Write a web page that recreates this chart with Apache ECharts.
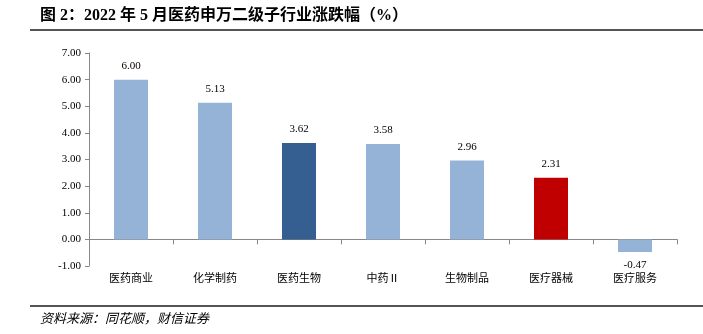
<!DOCTYPE html>
<html><head><meta charset="utf-8">
<script src="https://cdn.jsdelivr.net/npm/echarts@6/dist/echarts.min.js"></script>
<style>html,body{margin:0;padding:0;background:#fff}#c{width:703px;height:334px}</style>
</head><body><div id="c"></div>
<script>
const categories = ['医药商业','化学制药','医药生物','中药Ⅱ','生物制品','医疗器械','医疗服务'];
const values = [6.00, 5.13, 3.62, 3.58, 2.96, 2.31, -0.47];
const barColors = ['#95B3D7','#95B3D7','#365F91','#95B3D7','#95B3D7','#C00000','#95B3D7'];
const titleText = '图 2：2022 年 5 月医药申万二级子行业涨跌幅（%）';
const sourceText = '资料来源：同花顺，财信证券';

const font = '"Liberation Serif","Times New Roman","Noto Sans CJK SC",serif';
const chart = echarts.init(document.getElementById('c'));
chart.setOption({
  animation: false,
  grid: {left: 89, right: 26, top: 53, bottom: 68, containLabel: false},
  xAxis: {
    type: 'category', data: categories,
    axisLine: {onZero: true, lineStyle: {color: '#878787'}},
    axisTick: {show: true, length: 5, lineStyle: {color: '#878787'}},
    axisLabel: {margin: 8, color: '#000', fontSize: 11, fontFamily: font},
    splitLine: {show: false}
  },
  yAxis: {
    type: 'value', min: -1, max: 7, interval: 1,
    axisLine: {show: true, lineStyle: {color: '#878787'}},
    axisTick: {show: true, length: 4, lineStyle: {color: '#878787'}},
    axisLabel: {formatter: v => v.toFixed(2), color: '#000', fontSize: 11, fontFamily: font, margin: 8},
    splitLine: {show: false}
  },
  series: [{
    type: 'bar', barWidth: 34,
    data: values.map((v, i) => ({value: v, itemStyle: {color: barColors[i]},
      label: {position: v < 0 ? 'bottom' : 'top', distance: v < 0 ? 8 : 8}})),
    label: {show: true, formatter: p => p.value.toFixed(2), color: '#000', fontSize: 11, fontFamily: font}
  }],
  graphic: [
    {type: 'text', left: 40, top: 8, style: {text: titleText, font: 'bold 16px "Liberation Serif","Noto Sans CJK SC",serif', fill: '#000'}},
    {type: 'line', shape: {x1: 30, y1: 30, x2: 703, y2: 30}, style: {stroke: '#555', lineWidth: 2}},
    {type: 'line', shape: {x1: 30, y1: 306, x2: 703, y2: 306}, style: {stroke: '#555', lineWidth: 2}},
    {type: 'text', left: 40, top: 312, style: {text: sourceText, font: 'italic 13px "Noto Sans CJK SC",serif', fill: '#000'}}
  ]
});
</script></body></html>
